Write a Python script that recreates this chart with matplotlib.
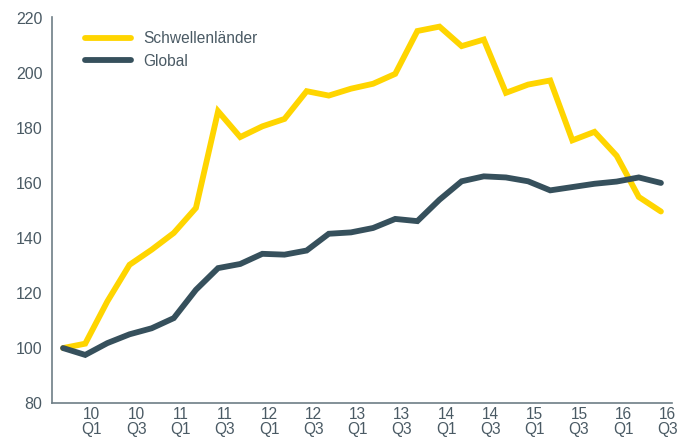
import matplotlib
matplotlib.use("Agg")
import matplotlib.pyplot as plt
import numpy as np

# quarterly index values, 09Q4 .. 16Q3
quarters = ["09 Q4",
            "10 Q1", "10 Q2", "10 Q3", "10 Q4",
            "11 Q1", "11 Q2", "11 Q3", "11 Q4",
            "12 Q1", "12 Q2", "12 Q3", "12 Q4",
            "13 Q1", "13 Q2", "13 Q3", "13 Q4",
            "14 Q1", "14 Q2", "14 Q3", "14 Q4",
            "15 Q1", "15 Q2", "15 Q3", "15 Q4",
            "16 Q1", "16 Q2", "16 Q3"]
schwellen = [100, 101.6, 117, 130.3, 135.8, 141.9, 151, 186.2, 176.8, 180.7,
             183.4, 193.5, 191.9, 194.4, 196.2, 199.8, 215.4, 217, 209.9, 212.3,
             192.9, 195.9, 197.4, 175.6, 178.7, 170, 155, 149.7]
global_ = [100, 97.5, 101.8, 105, 107.2, 110.9, 121.2, 129.1, 130.6, 134.3,
           134, 135.5, 141.6, 142.1, 143.7, 147, 146.2, 154, 160.7, 162.5,
           162.1, 160.7, 157.4, 158.6, 159.8, 160.6, 162.1, 160.1]

yellow = "#FFD500"
dark = "#36505C"
text_c = "#4A5A64"
spine_c = "#6E7E86"

plt.rcParams["font.family"] = ["Liberation Sans", "DejaVu Sans"]

fig = plt.figure(figsize=(6.92, 4.37), dpi=100)
ax = fig.add_axes([52 / 692, 1 - 403 / 437, 620 / 692, 386 / 437])

x = np.arange(len(quarters))
ax.plot(x, schwellen, color=yellow, lw=4.2, solid_joinstyle="miter",
        solid_capstyle="round", label="Schwellenländer")
ax.plot(x, global_, color=dark, lw=4.2, solid_joinstyle="miter",
        solid_capstyle="round", label="Global")

ax.set_xlim(-0.5, len(quarters) - 0.5)
ax.set_ylim(80, 220.5)
ax.set_yticks(range(80, 221, 20))

lab_idx = x[1::2]
ax.set_xticks(lab_idx + 0.3)
ax.set_xticklabels([quarters[i].replace(" ", "\n") for i in lab_idx],
                   linespacing=0.95)

ax.tick_params(axis="y", length=0, labelsize=11.5, colors=text_c, pad=7)
ax.tick_params(axis="x", length=0, labelsize=11.2, colors=text_c, pad=3)

for s in ["top", "right"]:
    ax.spines[s].set_visible(False)
for s in ["left", "bottom"]:
    ax.spines[s].set_color(spine_c)
    ax.spines[s].set_linewidth(1.2)

leg = ax.legend(loc="upper left", bbox_to_anchor=(0.03, 1.0), frameon=False,
                fontsize=11.2, handlelength=3.0, handletextpad=0.75,
                labelspacing=0.5)
for t in leg.get_texts():
    t.set_color(text_c)

fig.savefig("out.png", dpi=100)
